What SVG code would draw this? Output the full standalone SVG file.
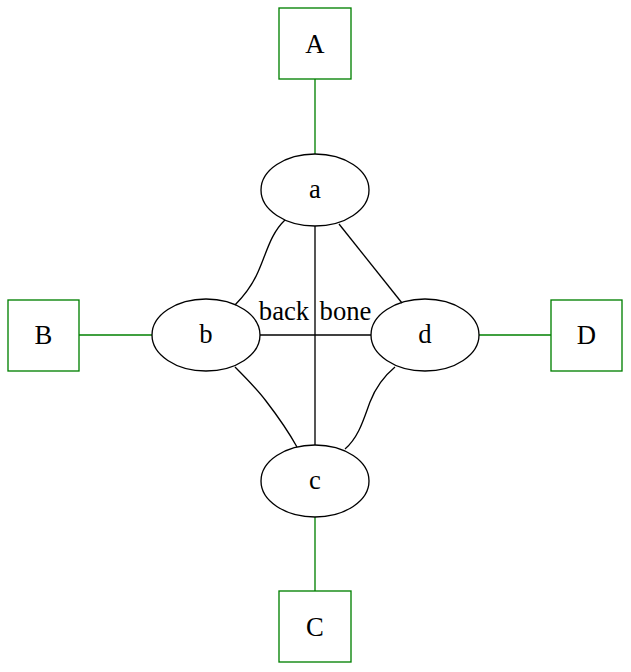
<svg xmlns="http://www.w3.org/2000/svg" width="631" height="672" viewBox="0 0 631 672">
<style>
.box{fill:none;stroke:#008000;stroke-width:1.33}
.ell{fill:none;stroke:#000;stroke-width:1.33}
.g{fill:none;stroke:#008000;stroke-width:1.33}
.k{fill:none;stroke:#000;stroke-width:1.33}
text{font-family:"Liberation Serif","Times New Roman",serif;font-size:26.67px;text-anchor:middle;fill:#000}
</style>
<rect width="631" height="672" fill="#fff"/>
<g id="connectors">
<path class="g" d="M315,79 L315,154"/>
<path class="g" d="M79,335 L152,335"/>
<path class="g" d="M479,335 L551,335"/>
<path class="g" d="M315,517 L315,591"/>
<path class="k" d="M285,220 C270,234 266,255 258,272 C252,286 244,296 235,305"/>
<path class="k" d="M339,224 L402,303"/>
<path class="k" d="M315,226 L315,445"/>
<path class="k" d="M260,335 L371,335"/>
<path class="k" d="M235,367 C246,378 257,389 266,401 C276,414 287,429 297,447"/>
<path class="k" d="M395,367 C383,377 375,389 370,402 C364,418 359,437 345,449"/>
<text x="284" y="320">back</text>
<text x="345.5" y="320">bone</text>
</g>
<g id="A"><rect class="box" x="279" y="8" width="72" height="71"/><text x="315" y="53">A</text></g>
<g id="B"><rect class="box" x="8" y="300" width="71" height="71"/><text x="43.5" y="344">B</text></g>
<g id="C"><rect class="box" x="279" y="591" width="72" height="71"/><text x="315" y="636">C</text></g>
<g id="D"><rect class="box" x="551" y="300" width="71" height="71"/><text x="586.5" y="344">D</text></g>
<g id="a"><ellipse class="ell" cx="315" cy="190" rx="54" ry="36"/><text x="315" y="198">a</text></g>
<g id="b"><ellipse class="ell" cx="206" cy="335" rx="54" ry="36"/><text x="206" y="343">b</text></g>
<g id="c"><ellipse class="ell" cx="315" cy="481" rx="54" ry="36"/><text x="315" y="489">c</text></g>
<g id="d"><ellipse class="ell" cx="425" cy="335" rx="54" ry="36"/><text x="425" y="343">d</text></g>
</svg>
